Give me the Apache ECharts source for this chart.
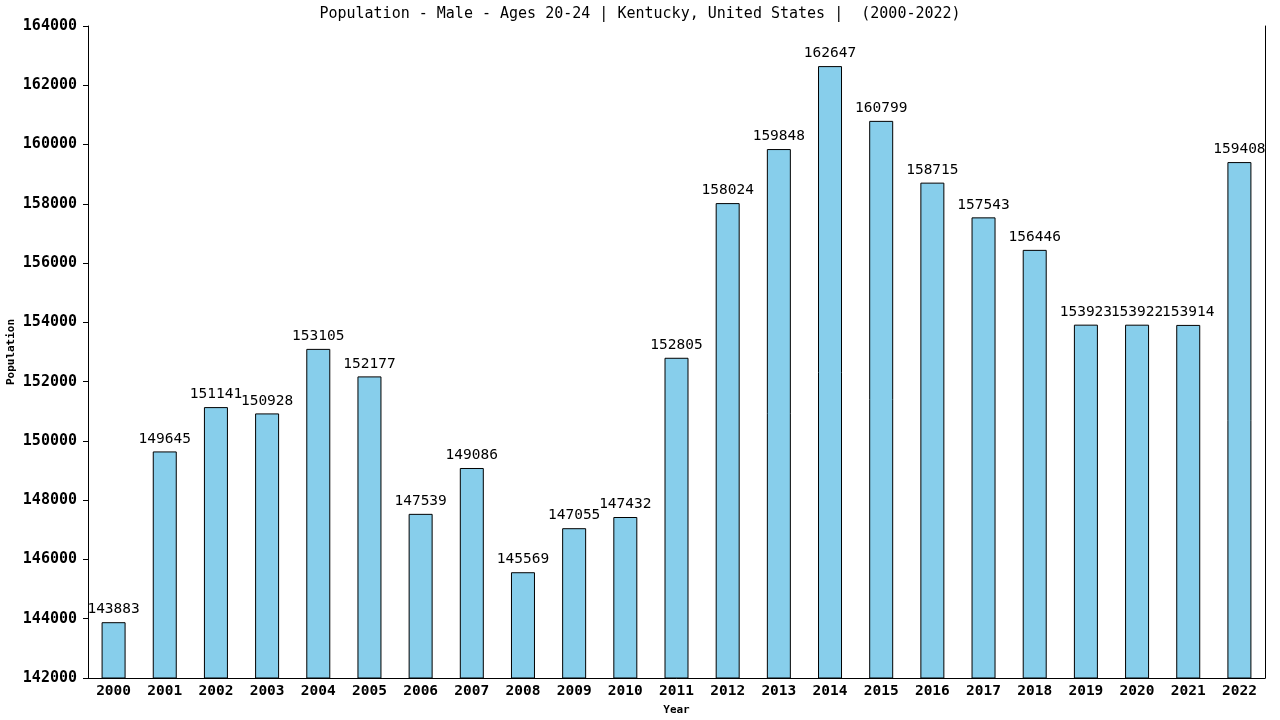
<!DOCTYPE html>
<html>
  <head>
    <meta charset="UTF-8" />
    <title>Population - Male - Ages 20-24 | Kentucky</title>
    <style>
      html, body { margin: 0; padding: 0; background: #ffffff; }
      #chart { width: 1280px; height: 720px; }
    </style>
    <script type="text/javascript" src="https://cdn.jsdelivr.net/npm/echarts@6/dist/echarts.min.js"></script>
  </head>
  <body>
    <div id="chart"></div>
    <script>
      var years = [
        "2000", "2001", "2002", "2003", "2004", "2005", "2006", "2007",
        "2008", "2009", "2010", "2011", "2012", "2013", "2014", "2015",
        "2016", "2017", "2018", "2019", "2020", "2021", "2022"
      ];

      var population = [
        143883, 149645, 151141, 150928, 153105, 152177, 147539, 149086,
        145569, 147055, 147432, 152805, 158024, 159848, 162647, 160799,
        158715, 157543, 156446, 153923, 153922, 153914, 159408
      ];

      var yMin = 142000;
      var yMax = 164000;
      var yStep = 2000;

      var font = "DejaVu Sans Mono";

      var myChart = echarts.init(document.getElementById("chart"));

      var option = {
        animation: false,
        backgroundColor: "#ffffff",
        title: {
          text: "Population - Male - Ages 20-24 | Kentucky, United States |  (2000-2022)",
          left: "center",
          top: 2,
          textStyle: {
            fontFamily: font,
            fontSize: 15,
            fontWeight: "normal",
            color: "#000000"
          }
        },
        grid: {
          left: 88,
          right: 15,
          top: 26,
          bottom: 42,
          containLabel: false,
          outerBoundsMode: "none"
        },
        xAxis: {
          type: "category",
          data: years,
          name: "Year",
          nameLocation: "middle",
          nameGap: 27,
          nameMoveOverlap: false,
          nameTextStyle: {
            fontFamily: font,
            fontSize: 11,
            fontWeight: "bold",
            color: "#000000"
          },
          axisLine: { lineStyle: { color: "#000000", width: 1 } },
          axisTick: { show: false },
          axisLabel: {
            fontFamily: font,
            fontSize: 14.5,
            fontWeight: "bold",
            color: "#000000",
            margin: 6
          }
        },
        yAxis: [
          {
            type: "value",
            min: yMin,
            max: yMax,
            interval: yStep,
            name: "Population",
            nameLocation: "middle",
            nameGap: 71,
            nameMoveOverlap: false,
            nameTextStyle: {
              fontFamily: font,
              fontSize: 11,
              fontWeight: "bold",
              color: "#000000"
            },
            axisLine: { show: true, lineStyle: { color: "#000000", width: 1 } },
            axisTick: { show: true, length: 5, lineStyle: { color: "#000000" } },
            splitLine: { show: false },
            axisLabel: {
              fontFamily: font,
              fontSize: 15,
              fontWeight: "bold",
              color: "#000000",
              margin: 11,
              formatter: function (v) { return String(v); }
            }
          },
          {
            type: "value",
            min: yMin,
            max: yMax,
            interval: yStep,
            position: "right",
            axisLine: { show: true, lineStyle: { color: "#000000", width: 1 } },
            axisTick: { show: false },
            axisLabel: { show: false },
            splitLine: { show: false }
          }
        ],
        series: [
          {
            type: "bar",
            data: population,
            barWidth: 24,
            itemStyle: {
              color: "#87ceeb",
              borderColor: "#000000",
              borderWidth: 1
            },
            label: {
              show: true,
              position: "top",
              distance: 5,
              fontFamily: font,
              fontSize: 14.5,
              color: "#000000"
            }
          }
        ]
      };

      myChart.setOption(option);
    </script>
  </body>
</html>
